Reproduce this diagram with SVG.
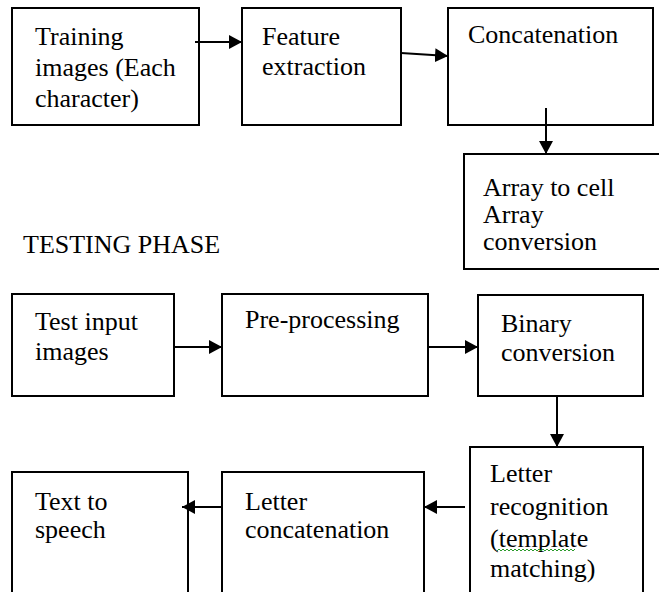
<svg xmlns="http://www.w3.org/2000/svg" width="659" height="592" viewBox="0 0 659 592">
<defs>
<marker id="ah" markerWidth="14" markerHeight="14" refX="13" refY="7" orient="auto" markerUnits="userSpaceOnUse">
<path d="M0,0 L13,7 L0,14 Z" fill="#000"/>
</marker>
<style>
rect{fill:#fff;stroke:#000;stroke-width:2}
text{font-family:"Liberation Serif","Times New Roman",serif;font-size:26px;fill:#000}
.c line{stroke:#000;stroke-width:2;marker-end:url(#ah)}
.sq{fill:none;stroke:#2a9a2a;stroke-width:1}
</style>
</defs>
<rect x="0" y="0" width="659" height="592" style="fill:#fff;stroke:none"/>
<g id="n1"><rect x="12" y="8" width="187" height="117"/>
<text x="35" y="45">Training</text><text x="35" y="76">images (Each</text><text x="35" y="107">character)</text></g>
<g id="n2"><rect x="242" y="8" width="159" height="117"/>
<text x="262" y="45">Feature</text><text x="262" y="75">extraction</text></g>
<g id="n3"><rect x="448" y="8" width="205" height="117"/>
<text x="468" y="43">Concatenation</text></g>
<g id="n4"><rect x="464" y="154" width="200" height="115"/>
<text x="483" y="196">Array to cell</text><text x="483" y="223">Array</text><text x="483" y="250">conversion</text></g>
<g id="title"><text x="23" y="253">TESTING PHASE</text></g>
<g id="n5"><rect x="12" y="294" width="162" height="102"/>
<text x="35" y="330">Test input</text><text x="35" y="360">images</text></g>
<g id="n6"><rect x="222" y="294" width="206" height="102"/>
<text x="245" y="328">Pre-processing</text></g>
<g id="n7"><rect x="478" y="295" width="165" height="101"/>
<text x="501" y="332">Binary</text><text x="501" y="361">conversion</text></g>
<g id="n8"><rect x="470" y="447" width="173" height="160"/>
<text x="490" y="482">Letter</text><text x="490" y="515">recognition</text><text x="490" y="547">(template</text><text x="490" y="577">matching)</text>
<path class="sq" d="M497,551 l2,-2 l2,2 l2,-2 l2,2 l2,-2 l2,2 l2,-2 l2,2 l2,-2 l2,2 l2,-2 l2,2 l2,-2 l2,2 l2,-2 l2,2 l2,-2 l2,2 l2,-2 l2,2 l2,-2 l2,2 l2,-2 l2,2 l2,-2 l2,2 l2,-2 l2,2 l2,-2 l2,2 l2,-2 l2,2 l2,-2 l2,2 l2,-2 l2,2 l2,-2 l2,2 l2,-2"/></g>
<g id="n9"><rect x="222" y="472" width="202" height="135"/>
<text x="245" y="510">Letter</text><text x="245" y="538">concatenation</text></g>
<g id="n10"><rect x="12" y="472" width="176" height="135"/>
<text x="35" y="510">Text to</text><text x="35" y="538">speech</text></g>
<g id="connectors" class="c">
<line x1="195" y1="42" x2="242" y2="42"/>
<line x1="401" y1="53" x2="448" y2="56"/>
<line x1="546" y1="108" x2="546" y2="154"/>
<line x1="174" y1="347" x2="222" y2="347"/>
<line x1="428" y1="347" x2="478" y2="347"/>
<line x1="557" y1="396" x2="557" y2="447"/>
<line x1="465" y1="507" x2="424" y2="507"/>
<line x1="222" y1="507" x2="182" y2="507"/>
</g>
</svg>
